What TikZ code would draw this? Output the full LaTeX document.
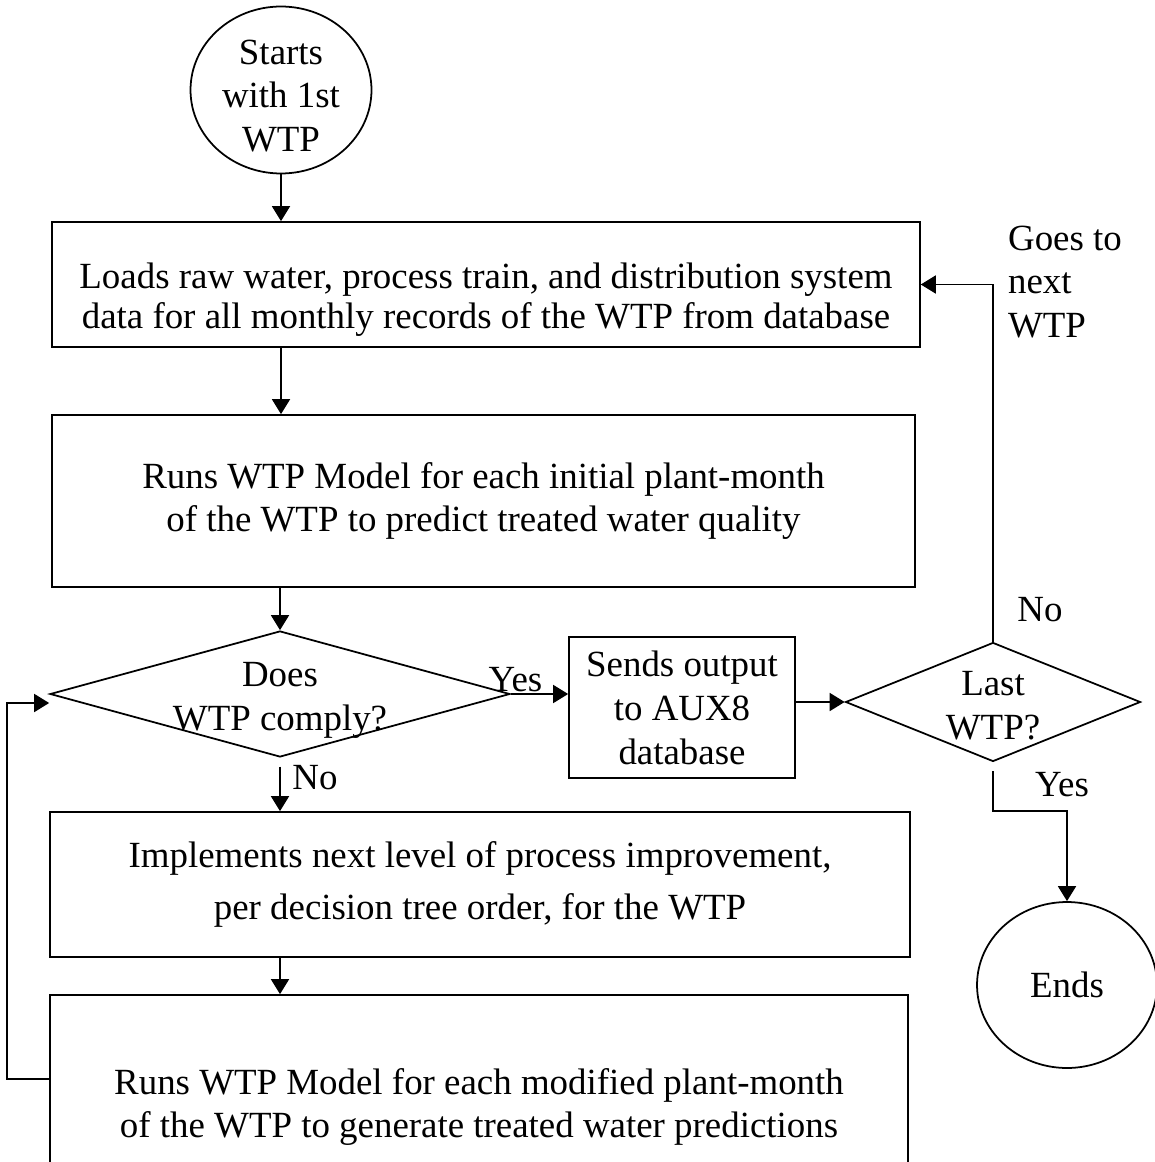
\documentclass[tikz,border=0pt]{standalone}
\usepackage{fontspec}
\setmainfont{Liberation Serif}
\usetikzlibrary{shapes.geometric, arrows.meta, positioning}

\begin{document}
\begin{tikzpicture}[
    x=0.02cm, y=-0.02cm,
    font=\fontsize{21}{25}\selectfont,
    box/.style={draw, line width=1pt, align=center, inner sep=0pt},
    decision/.style={draw, diamond, line width=1pt, inner sep=0pt},
    terminal/.style={draw, ellipse, line width=1pt, inner sep=0pt},
    arrow/.style={-{Triangle[length=0.3cm, width=0.36cm]}, line width=1pt},
    tag/.style={inner sep=1pt}
]
    \useasboundingbox (0,0) rectangle (1154,1162);

    % terminals
    \node[terminal, minimum width=3.62cm, minimum height=3.34cm,
        label={[align=center, yshift=-0.12cm]center:Starts\\with 1st\\WTP}] (start) at (281,90) {};
    \node[terminal, minimum width=3.6cm, minimum height=3.32cm] (ends) at (1067,985) {Ends};

    % process boxes
    \node[box, minimum width=17.36cm, minimum height=2.5cm,
        label={[align=center, yshift=-0.3cm]center:Loads raw water, process train, and distribution system\\[-2pt]data for all monthly records of the WTP from database}]
        (load) at (486,284.5) {};
    \node[box, minimum width=17.26cm, minimum height=3.44cm] (runinit) at (483.5,501)
        {Runs WTP Model for each initial plant-month\\of the WTP to predict treated water quality};
    \node[box, minimum width=4.52cm, minimum height=2.82cm] (sends) at (682,707.5)
        {Sends output\\to AUX8\\database};
    \node[box, minimum width=17.2cm, minimum height=2.9cm] (improve) at (480,884.5)
        {Implements next level of process improvement,\\[5pt]per decision tree order, for the WTP};
    \node[box, minimum width=17.16cm, minimum height=4.48cm] (runmod) at (479,1107)
        {Runs WTP Model for each modified plant-month\\of the WTP to generate treated water predictions};

    % decisions
    \node[decision, minimum width=9.2cm, minimum height=2.52cm,
        label={[align=center, yshift=-0.12cm]center:Does\\WTP comply?}] (comply) at (280,694) {};
    \node[decision, minimum width=5.9cm, minimum height=2.38cm,
        label={[align=center, yshift=-0.08cm]center:Last\\WTP?}] (last) at (993,702) {};

    % side texts
    \node[tag, align=left, anchor=west] (nextwtp) at (1006,282) {Goes to\\next\\WTP};
    \node[tag] (nolast) at (1040,610) {No};
    \node[tag] (yeslast) at (1062,785) {Yes};
    \node[tag] (nocomply) at (315,778) {No};

    \coordinate (back) at ([yshift=-0.18cm]comply.west);

    % connectors
    \draw[arrow] (start) -- (start |- load.north);
    \draw[arrow] (load.south -| start) -- (runinit.north -| start);
    \draw[arrow] (runinit.south -| comply) -- (comply.north);
    \draw[arrow] (comply.east) -- node[tag, above, pos=0.08] {Yes} (comply.east -| sends.west);
    \draw[arrow] (sends.east |- last) -- (last.west);
    \draw[arrow] (last.north) |- (load.east);
    \draw[arrow] ([yshift=-5pt]last.south) -- ++(0,40) -| (ends.north);
    \draw[arrow] ([yshift=-5pt]comply.south) -- (improve.north -| comply);
    \draw[arrow] (improve.south -| comply) -- (runmod.north -| comply);
    \draw[arrow] ([yshift=0.56cm]runmod.west) -- ++(-42,0) |- (back);
\end{tikzpicture}
\end{document}
